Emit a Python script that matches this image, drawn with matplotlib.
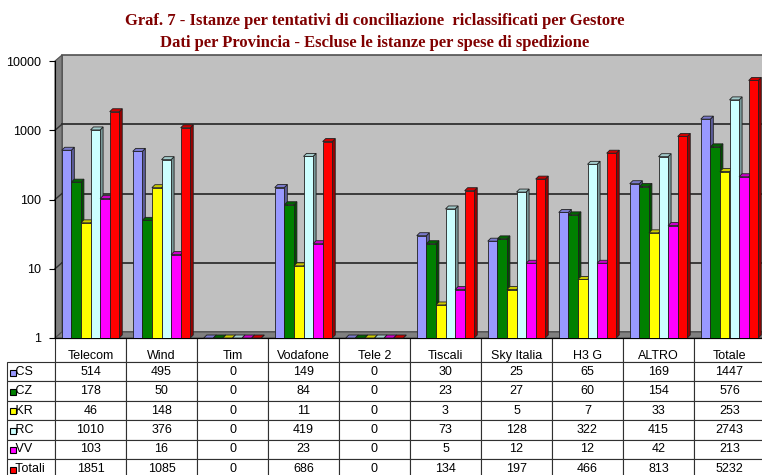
import numpy as np
import matplotlib.pyplot as plt
from matplotlib.patches import Polygon, Rectangle
from matplotlib.transforms import ScaledTranslation, IdentityTransform
import matplotlib.colors as mcolors

# Dati per gestore e provincia
gestori = ['Telecom', 'Wind', 'Tim', 'Vodafone', 'Tele 2', 'Tiscali',
           'Sky Italia', 'H3 G', 'ALTRO', 'Totale']
province = ['CS', 'CZ', 'KR', 'RC', 'VV', 'Totali']
cs = [514, 495, 0, 149, 0, 30, 25, 65, 169, 1447]
cz = [178, 50, 0, 84, 0, 23, 27, 60, 154, 576]
kr = [46, 148, 0, 11, 0, 3, 5, 7, 33, 253]
rc = [1010, 376, 0, 419, 0, 73, 128, 322, 415, 2743]
vv = [103, 16, 0, 23, 0, 5, 12, 12, 42, 213]
totali = [1851, 1085, 0, 686, 0, 134, 197, 466, 813, 5232]
serie = [cs, cz, kr, rc, vv, totali]
colori = ['#9999FF', '#008000', '#FFFF00', '#CCFFFF', '#FF00FF', '#FF0000']
ytick_val = [1, 10, 100, 1000, 10000]

plt.rcParams['font.family'] = ['Liberation Sans', 'DejaVu Sans']

W, H = 762, 475
fig = plt.figure(figsize=(W / 100, H / 100), dpi=100)
ax = fig.add_axes([55 / W, (H - 338) / H, 710 / W, 277 / H])
ax.set_yscale('log')
ax.set_ylim(1, 10000)
ax.set_xlim(-0.5, len(gestori) - 0.5)
ax.set_facecolor('none')

# ---------- pareti 3D ----------
dxw, dyw = 7, 6
off = ScaledTranslation(dxw / 100, dyw / 100, fig.dpi_scale_trans)
ax.add_patch(Rectangle((0, 0), 1, 1, transform=ax.transAxes + off,
                       fc='#C0C0C0', ec='#505050', lw=1.2, zorder=0, clip_on=False))

idt = IdentityTransform()
(fx0, fy0), (fx1, fy1) = ax.transAxes.transform([(0, 0), (1, 1)])
ax.add_patch(Polygon([(fx0, fy0), (fx0, fy1), (fx0 + dxw, fy1 + dyw), (fx0 + dxw, fy0 + dyw)],
                     closed=True, transform=idt, fc='#808080', ec='#505050', lw=0.8,
                     zorder=0.5, clip_on=False))
ax.add_patch(Polygon([(fx0, fy0), (fx1, fy0), (fx1 + dxw, fy0 + dyw), (fx0 + dxw, fy0 + dyw)],
                     closed=True, transform=idt, fc='#808080', ec='#505050', lw=0.8,
                     zorder=0.5, clip_on=False))

# griglia sulla parete di fondo e sul lato sinistro
for v in ytick_val[1:-1]:
    ax.plot([0, 1], [v, v], transform=ax.get_yaxis_transform() + off,
            color='#303030', lw=1.3, zorder=0.8, clip_on=False)
    gx, gy = ax.get_yaxis_transform().transform((0, v))
    ax.plot([gx, gx + dxw], [gy, gy + dyw], transform=idt,
            color='#303030', lw=1.0, zorder=0.8, clip_on=False)

# ---------- barre ----------
n = len(serie)
bw = 0.135
x = np.arange(len(gestori))
dxb, dyb = 3, 3
for i, (vals, col) in enumerate(zip(serie, colori)):
    xs = x + (i - (n - 1) / 2) * bw
    alt = np.maximum(np.array(vals, dtype=float), 1.0)
    z = 3 + i * 0.1
    ax.bar(xs, alt - 1, bottom=1, width=bw, color=col, edgecolor='#202020',
           lw=0.6, zorder=z + 0.05)
    rgb = np.array(mcolors.to_rgb(col))
    lato = rgb * 0.6
    sopra = rgb * 0.8
    for xc, h in zip(xs, alt):
        (a0, b0), (a1, b1) = ax.transData.transform([(xc - bw / 2, 1), (xc + bw / 2, h)])
        ax.add_patch(Polygon([(a1, b0), (a1, b1), (a1 + dxb, b1 + dyb), (a1 + dxb, b0 + dyb)],
                             closed=True, transform=idt, fc=lato, ec='#202020', lw=0.6,
                             zorder=z, clip_on=False))
        ax.add_patch(Polygon([(a0, b1), (a1, b1), (a1 + dxb, b1 + dyb), (a0 + dxb, b1 + dyb)],
                             closed=True, transform=idt, fc=sopra, ec='#202020', lw=0.6,
                             zorder=z, clip_on=False))

# ---------- assi ----------
ax.spines['top'].set_visible(False)
ax.spines['right'].set_visible(False)
ax.spines['left'].set_zorder(2)
ax.spines['bottom'].set_zorder(2)
ax.set_yticks(ytick_val)
ax.set_yticklabels([str(v) for v in ytick_val], fontsize=9)
ax.yaxis.set_minor_locator(plt.NullLocator())
ax.tick_params(axis='y', length=4, pad=6)
ax.set_xticks([])

# ---------- tabella dati ----------
righe = [[''] + gestori] + [[' ' + p] + [str(v) for v in s] for p, s in zip(province, serie)]
hh = 24 + 19.4 * 6
tab = ax.table(cellText=righe, cellLoc='center',
               bbox=[-48 / 710, -hh / 277, 1 + 48 / 710, hh / 277])
tab.auto_set_font_size(False)
tab.set_fontsize(9)
for (r, c), cell in tab.get_celld().items():
    cell.set_width(48 if c == 0 else 71)
    cell.set_height(24 if r == 0 else 19.4)
    cell.set_linewidth(0.8)
    cell.set_edgecolor('#303030')
    if c == 0:
        cell.get_text().set_ha('left')
    if r == 0:
        cell.get_text().set_va('top')
    if r == 0 and c == 0:
        cell.visible_edges = 'open'
        cell.set_facecolor('none')

# chiavi della legenda nella tabella
for r, col in enumerate(colori):
    yc = H - (362 + 19.4 * r + 10.5)
    fig.patches.append(Rectangle((10, yc - 3), 6, 6, transform=idt,
                                 fc=col, ec='black', lw=0.8, zorder=5))

# ---------- titolo ----------
fig.text(375 / W, (H - 21) / H,
         'Graf. 7 - Istanze per tentativi di conciliazione  riclassificati per Gestore',
         ha='center', va='center', fontsize=12, fontweight='bold',
         family='Liberation Serif', color='#800000')
fig.text(375 / W, (H - 43) / H,
         'Dati per Provincia - Escluse le istanze per spese di spedizione',
         ha='center', va='center', fontsize=12, fontweight='bold',
         family='Liberation Serif', color='#800000')

fig.savefig('out.png', dpi=100)
